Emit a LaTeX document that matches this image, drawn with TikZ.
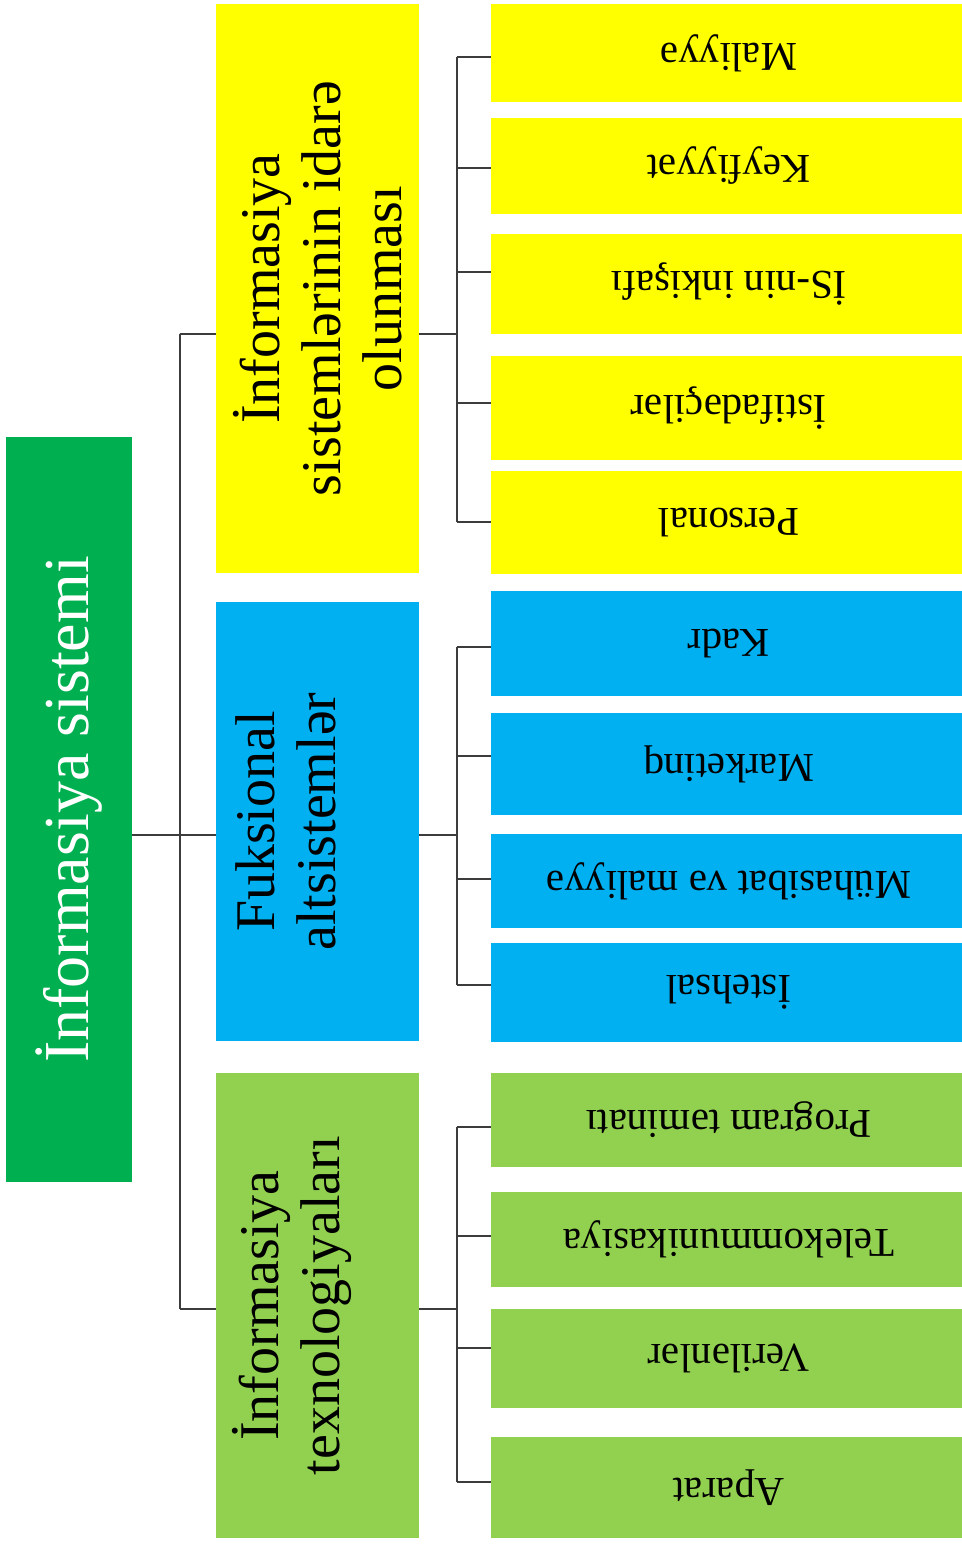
\documentclass[tikz,border=0pt]{standalone}
\usepackage{fontspec}
\setmainfont{Liberation Serif}
\usetikzlibrary{calc}
\definecolor{topyellow}{HTML}{FFFF00}
\definecolor{funcblue}{HTML}{00B0F0}
\definecolor{techgreen}{HTML}{92D050}
\definecolor{rootgreen}{HTML}{00B050}
\definecolor{linkgray}{HTML}{3C3C3C}
\begin{document}
\begin{tikzpicture}[x=1pt,y=-1pt,
  cell/.style={inner sep=0pt, outer sep=0pt, draw=none},
  leaf/.style={cell, minimum width=476pt, font=\fontsize{41}{46}\selectfont},
  midbox/.style={cell, minimum width=203pt},
  midtext/.style={rotate=90, align=center, inner sep=0pt, font=\fontsize{56}{61}\selectfont},
  conn/.style={draw=linkgray, line width=2pt}]
\useasboundingbox (0,0) rectangle (961,1544);
\fill[white] (0,0) rectangle (961,1544);

% root
\node[cell, fill=rootgreen, minimum width=126pt, minimum height=745pt, text=white,
      font=\fontsize{64}{70}\selectfont] (root) at (69,809.5) {\rotatebox{90}{İnformasiya sistemi}};

% second level boxes
\node[midbox, fill=topyellow, minimum height=569pt] (mA) at (317.5,288.5) {};
\node[midbox, fill=funcblue, minimum height=439pt] (mB) at (317.5,821.5) {};
\node[midbox, fill=techgreen, minimum height=465pt] (mC) at (317.5,1305.5) {};
\node[midtext] (tA) at (317.5,288.5) {İnformasiya\\sistemlərinin idarə\\olunması};
\node[midtext] (tB) at (286,821.5) {Fuksional\\altsistemlər};
\node[midtext] (tC) at (292,1305.5) {İnformasiya\\texnologiyaları};

% leaves
\node[leaf, fill=topyellow, minimum height=98pt]  (a1) at (729,53)    {\rotatebox{180}{Maliyyə}};
\node[leaf, fill=topyellow, minimum height=96pt]  (a2) at (729,166)   {\rotatebox{180}{Keyfiyyət}};
\node[leaf, fill=topyellow, minimum height=100pt] (a3) at (729,284)   {\rotatebox{180}{İS-nin inkişafı}};
\node[leaf, fill=topyellow, minimum height=104pt] (a4) at (729,408)   {\rotatebox{180}{İstifadəçilər}};
\node[leaf, fill=topyellow, minimum height=103pt] (a5) at (729,522.5) {\rotatebox{180}{Personal}};

\node[leaf, fill=funcblue, minimum height=105pt] (b1) at (729,643.5) {\rotatebox{180}{Kadr}};
\node[leaf, fill=funcblue, minimum height=102pt] (b2) at (729,764)   {\rotatebox{180}{Marketinq}};
\node[leaf, fill=funcblue, minimum height=94pt]  (b3) at (729,881)   {\rotatebox{180}{Mühasibat və maliyyə}};
\node[leaf, fill=funcblue, minimum height=99pt]  (b4) at (729,992.5) {\rotatebox{180}{İstehsal}};

\node[leaf, fill=techgreen, minimum height=94pt]  (c1) at (729,1120)   {\rotatebox{180}{Program təminatı}};
\node[leaf, fill=techgreen, minimum height=95pt]  (c2) at (729,1239.5) {\rotatebox{180}{Telekommunikasiya}};
\node[leaf, fill=techgreen, minimum height=99pt]  (c3) at (729,1358.5) {\rotatebox{180}{Verilənlər}};
\node[leaf, fill=techgreen, minimum height=101pt] (c4) at (729,1487.5) {\rotatebox{180}{Aparat}};

% bus columns
\coordinate (busL) at (179.5,0);
\coordinate (busR) at (456.5,0);

% joints on the boxes
\coordinate (jRoot) at ($(root.east)+(0,25.5)$);
\coordinate (jAw) at ($(mA.west)+(0,45.5)$);
\coordinate (jAe) at ($(mA.east)+(0,45.5)$);
\coordinate (jBw) at ($(mB.west)+(0,13.5)$);
\coordinate (jBe) at ($(mB.east)+(0,13.5)$);
\coordinate (jCw) at ($(mC.west)+(0,3.5)$);
\coordinate (jCe) at ($(mC.east)+(0,3.5)$);
\foreach \n/\d in {a1/4,a2/2,a3/-12,a4/-5.5,a5/-0.5,b1/3.5,b2/-8,b3/-2,b4/-7.5,c1/7,c2/-3.5,c3/-10.5,c4/-5.5}
  \coordinate (\n s) at ($(\n.west)+(0,\d)$);

% root to second level
\draw[conn] (jRoot) -- (jBw);
\draw[conn] (jAw -| busL) -- (jCw -| busL);
\draw[conn] (jAw -| busL) -- (jAw);
\draw[conn] (jCw -| busL) -- (jCw);

% second level to leaves
\draw[conn] (jAe) -- (jAe -| busR);
\draw[conn] (a1s -| busR) -- (a5s -| busR);
\foreach \n in {a1,a2,a3,a4,a5} \draw[conn] (\n s -| busR) -- (\n s);

\draw[conn] (jBe) -- (jBe -| busR);
\draw[conn] (b1s -| busR) -- (b4s -| busR);
\foreach \n in {b1,b2,b3,b4} \draw[conn] (\n s -| busR) -- (\n s);

\draw[conn] (jCe) -- (jCe -| busR);
\draw[conn] (c1s -| busR) -- (c4s -| busR);
\foreach \n in {c1,c2,c3,c4} \draw[conn] (\n s -| busR) -- (\n s);
\end{tikzpicture}
\end{document}
